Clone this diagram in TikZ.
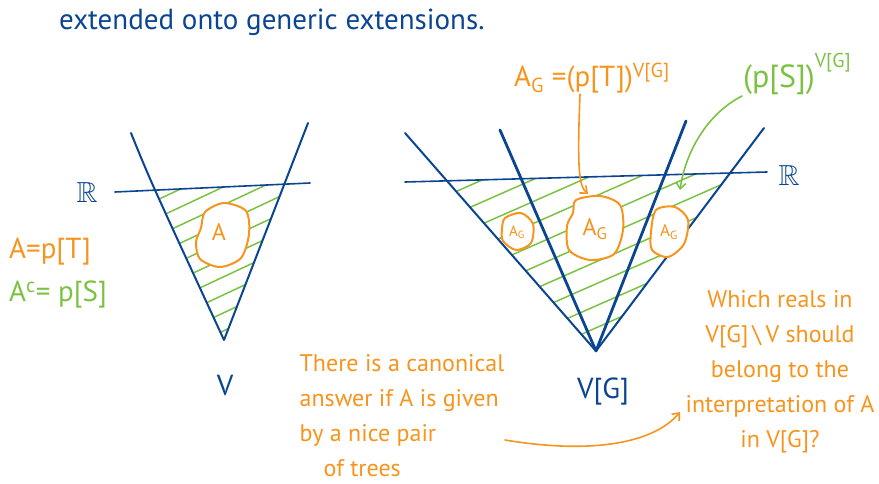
\documentclass[tikz,border=0pt]{standalone}
\usepackage{fontspec}
\usepackage{amssymb}
\setmainfont{PT Sans}
\usetikzlibrary{arrows.meta}
\definecolor{inkblue}{HTML}{0B4592}
\definecolor{inkorange}{HTML}{F7941D}
\definecolor{inkgreen}{HTML}{7CC242}
\begin{document}
\begin{tikzpicture}[x=1pt, y=-1pt, line cap=round, line join=round,
    wedge/.style={inkblue, line width=2pt},
    cut/.style={inkblue, line width=2.8pt},
    reals/.style={inkblue, line width=1.6pt},
    hatch/.style={inkgreen, line width=1.5pt},
    blob/.style={inkorange, line width=2pt, fill=white},
    hand/.style={inner sep=1pt, font=\fontsize{24}{35}\selectfont},
    big/.style={inner sep=1pt, font=\fontsize{29}{32}\selectfont},
    arr/.style={line width=1.6pt, -{Straight Barb[length=6pt, width=10pt]}}]
  \useasboundingbox (0,0) rectangle (879,484);
  % titel
  \node[big, inkblue, anchor=base west] (title) at (58,30) {extended onto generic extensions.};
  % linker kegel V
  \coordinate (lTL) at (131,133);
  \coordinate (lTR) at (308,123);
  \coordinate (lA) at (224,340);
  \coordinate (lRa) at (115,192);
  \coordinate (lRb) at (310,183);
  \begin{scope}
    \clip (156,190) -- (285,184) -- (lA) -- cycle;
    \foreach \c in {274,292,...,440}
      \draw[hatch] (140,{\c-66}) -- (300,{\c-141});
  \end{scope}
  \draw[wedge] (lTL) .. controls (150,180) .. (lA) -- (lTR);
  \draw[reals] (lRa) -- (lRb);
  \draw[blob] plot[smooth cycle] coordinates {(205,212) (224,203) (246,211) (249,234) (241,258) (220,267) (200,259) (196,242) (201,228)};
  \node[hand, inkorange] (aL) at (219,232) {A};
  \node[big, inkblue] (rL) at (87,193) {$\mathbb{R}$};
  \node[big, inkorange, anchor=west] (aeq) at (8,252) {A=p[T]};
  \node[big, inkgreen, anchor=west] (aceq) at (8,295) {A\textsuperscript{c}= p[S]};
  \node[big, inkblue] (vL) at (225,386) {V};
  % rechter kegel V[G]
  \coordinate (rTL) at (405,133);
  \coordinate (rTM) at (500,130);
  \coordinate (rTN) at (686,121);
  \coordinate (rTR) at (764,128);
  \coordinate (rA) at (596,351);
  \coordinate (rRa) at (405,182);
  \coordinate (rRb) at (767,172);
  \begin{scope}
    \clip (447,181) -- (730,173) -- (rA) -- cycle;
    \foreach \c in {392,414,...,610}
      \draw[hatch] (430,{\c-189}) -- (750,{\c-330});
  \end{scope}
  \draw[wedge] (rTL) -- (rA) -- (rTR);
  \draw[cut] (rTM) -- (rA) -- (rTN);
  \draw[reals] (rRa) -- (rRb);
  \draw[blob] plot[smooth cycle] coordinates {(505,218) (521,213) (533,224) (531,243) (516,250) (503,241) (502,229)};
  \draw[blob] plot[smooth cycle] coordinates {(576,200) (600,196) (620,205) (623,230) (614,254) (590,260) (569,250) (567,226) (573,213)};
  \draw[blob] plot[smooth cycle] coordinates {(656,210) (675,207) (688,220) (684,244) (668,257) (652,250) (651,232)};
  \node[hand, inkorange, font=\fontsize{15}{17}\selectfont] (agL) at (517,232) {A\textsubscript{G}};
  \node[hand, inkorange] (agM) at (595,229) {A\textsubscript{G}};
  \node[hand, inkorange, font=\fontsize{17}{19}\selectfont] (agR) at (669,232) {A\textsubscript{G}};
  \coordinate (mTop) at (588,194);
  \coordinate (gTip) at (680,190);
  \node[big, inkblue] (rR) at (789,176) {$\mathbb{R}$};
  \node[big, inkblue] (vG) at (603,392) {V[G]};
  % beschriftungen
  \node[big, inkorange] (agDef) at (592,78) {A\textsubscript{G} =(p[T])\textsuperscript{V[G]}};
  \node[big, inkgreen, anchor=south west, font=\fontsize{32}{34}\selectfont] (psDef) at (742,96) {(p[S])\raisebox{20pt}{\fontsize{20}{22}\selectfont V[G]}};
  \draw[arr, inkorange] (agDef.south -| 580,0) .. controls (577,170) and (579,186) .. (mTop);
  \draw[arr, inkgreen] (psDef.south west) .. controls (705,115) and (685,155) .. (gTip);
  \node[hand, inkorange, align=left] (canon) at (402,416) {There is a canonical\\answer if A is given\\by a nice pair\\\quad of trees};
  \node[hand, inkorange, align=center] (which) at (780,372) {Which reals in\\V[G]\,\textbackslash\,V should\\belong to the\\interpretation of A\\in V[G]?};
  \coordinate (q0) at (505,440);
  \coordinate (q1) at (680,412);
  \draw[arr, inkorange] (q0) .. controls (595,455) and (655,442) .. (q1);
\end{tikzpicture}
\end{document}
